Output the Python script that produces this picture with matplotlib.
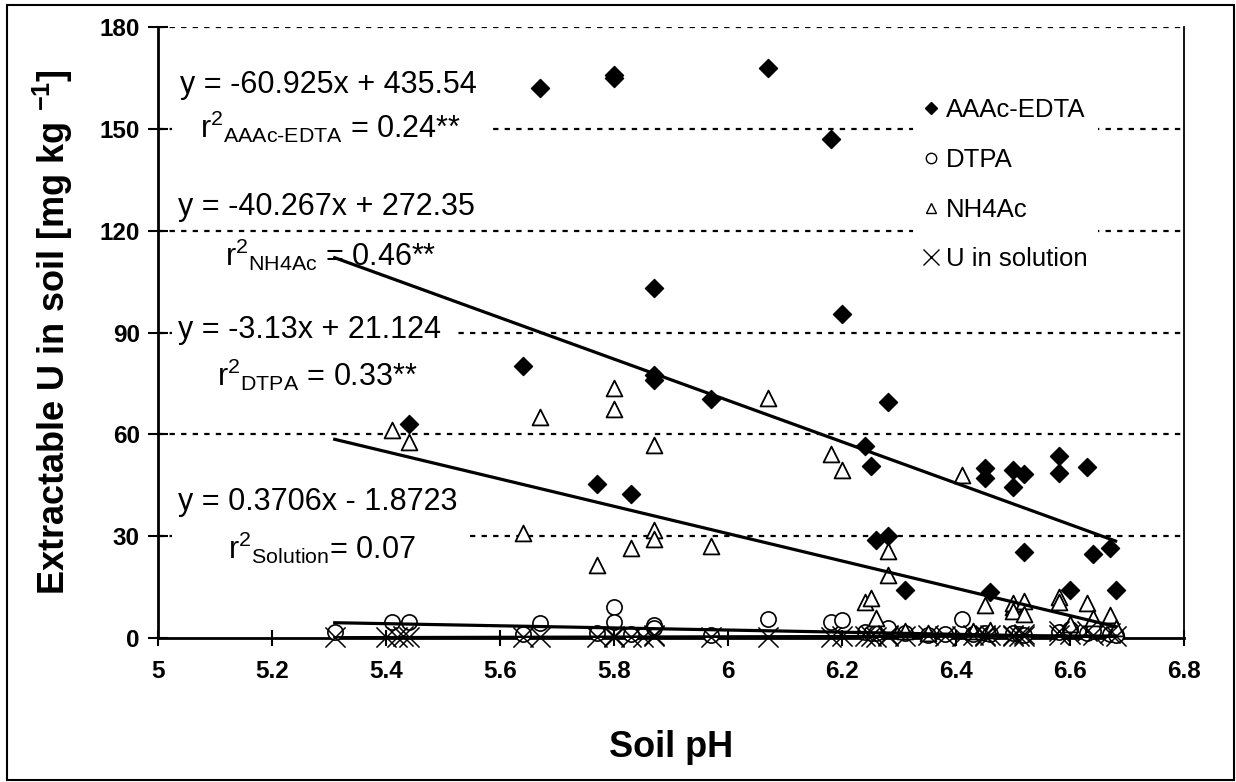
import matplotlib
matplotlib.use("Agg")
import matplotlib.pyplot as plt
from matplotlib.patches import Rectangle
from matplotlib.lines import Line2D

plt.rcParams["font.family"] = ["Liberation Sans", "DejaVu Sans"]
plt.rcParams["mathtext.fontset"] = "custom"
plt.rcParams["mathtext.rm"] = "Liberation Sans"
plt.rcParams["mathtext.it"] = "Liberation Sans:italic"
plt.rcParams["mathtext.bf"] = "Liberation Sans:bold"

# AAAc-EDTA extractable U
aaac_ph = [5.44, 5.64, 5.67, 5.77, 5.80, 5.80, 5.83, 5.87, 5.87, 5.87, 5.97, 6.07,
           6.18, 6.20, 6.24, 6.25, 6.26, 6.28, 6.28, 6.31, 6.45, 6.45, 6.46, 6.50,
           6.50, 6.52, 6.52, 6.58, 6.58, 6.60, 6.63, 6.64, 6.67, 6.68]
aaac_u = [63.1, 80.0, 162.0, 45.3, 165.0, 166.0, 42.4, 103.0, 77.5, 75.9, 70.4, 168.0,
          147.0, 95.4, 56.6, 50.7, 28.9, 69.5, 30.1, 14.1, 50.2, 47.1, 13.5, 49.5,
          44.6, 48.2, 25.3, 53.6, 48.7, 14.1, 50.5, 24.8, 26.6, 14.1]

# DTPA extractable U
dtpa_ph = [5.31, 5.41, 5.44, 5.64, 5.67, 5.77, 5.80, 5.80, 5.83, 5.87, 5.87, 5.97,
           6.07, 6.18, 6.20, 6.24, 6.25, 6.26, 6.28, 6.31, 6.35, 6.38, 6.41, 6.43,
           6.45, 6.46, 6.50, 6.51, 6.52, 6.58, 6.60, 6.63, 6.64, 6.67, 6.68]
dtpa_u = [1.9, 4.8, 4.8, 1.2, 4.3, 1.5, 9.0, 4.8, 1.3, 3.8, 2.8, 1.0,
          5.5, 4.8, 5.3, 1.8, 1.4, 1.6, 2.8, 1.5, 1.0, 1.2, 5.5, 1.3,
          1.6, 1.1, 1.4, 1.2, 1.0, 1.8, 2.6, 1.5, 2.0, 1.2, 1.0]

# NH4Ac extractable U
nh4_ph = [5.41, 5.44, 5.64, 5.67, 5.77, 5.80, 5.80, 5.83, 5.87, 5.87, 5.87, 5.97,
          6.07, 6.18, 6.20, 6.24, 6.25, 6.26, 6.28, 6.28, 6.31, 6.35, 6.41, 6.43,
          6.45, 6.46, 6.50, 6.50, 6.50, 6.52, 6.52, 6.58, 6.58, 6.60, 6.63, 6.64,
          6.67, 6.68]
nh4_u = [61.3, 57.6, 31.0, 65.2, 21.5, 73.6, 67.5, 26.4, 56.9, 31.8, 29.2, 27.1,
         70.6, 54.2, 49.5, 10.7, 11.7, 5.8, 25.6, 18.6, 2.0, 1.5, 48.0, 2.0,
         9.7, 2.5, 9.2, 10.4, 8.0, 11.0, 7.1, 12.0, 10.7, 4.0, 10.4, 5.8,
         6.8, 2.9]

# U in soil solution
sol_ph = [5.31, 5.40, 5.42, 5.43, 5.44, 5.64, 5.67, 5.77, 5.80, 5.80, 5.83, 5.85,
          5.87, 5.87, 5.97, 6.07, 6.18, 6.20, 6.24, 6.25, 6.26, 6.28, 6.28, 6.31,
          6.35, 6.38, 6.41, 6.43, 6.45, 6.45, 6.46, 6.50, 6.50, 6.51, 6.52, 6.52,
          6.58, 6.58, 6.60, 6.63, 6.64, 6.67, 6.68]
sol_u = [0.3, 0.4, 0.2, 0.5, 0.3, 0.3, 0.4, 0.2, 0.3, 0.6, 0.4, 0.3,
         0.5, 0.8, 0.2, 0.4, 0.3, 0.6, 0.5, 0.7, 0.4, 0.9, 0.6, 0.5,
         0.8, 0.6, 0.7, 0.9, 0.6, 1.0, 0.8, 0.5, 0.9, 0.7, 0.6, 1.1,
         2.2, 0.8, 1.2, 2.0, 1.0, 1.4, 0.7]

# linear trend lines (slope, intercept) as printed on the chart
fit_range = (5.31, 6.68)
trend_aaac = (-60.925, 435.54)
trend_nh4 = (-40.267, 272.35)
trend_dtpa = (-3.13, 21.124)
trend_sol = (0.3706, -1.8723)

x_ticks = [5, 5.2, 5.4, 5.6, 5.8, 6, 6.2, 6.4, 6.6, 6.8]
x_tick_labels = ["5", "5.2", "5.4", "5.6", "5.8", "6", "6.2", "6.4", "6.6", "6.8"]
y_ticks = [0, 30, 60, 90, 120, 150, 180]

W, H = 1236, 782
fig = plt.figure(figsize=(W / 100, H / 100), dpi=100)
ax = fig.add_axes([158 / W, 1 - 638 / H, (1184 - 158) / W, (638 - 27) / H])

# outer frame of the chart
fig.patches.append(Rectangle((7 / W, 2 / H), 1227 / W, 775 / H, transform=fig.transFigure,
                             fill=False, edgecolor="black", linewidth=1.5))

ax.set_xlim(5, 6.8)
ax.set_ylim(0, 180)
ax.set_xticks(x_ticks)
ax.set_xticklabels(x_tick_labels)
ax.set_yticks(y_ticks)
for lab in ax.get_xticklabels() + ax.get_yticklabels():
    lab.set_fontweight("bold")
    lab.set_fontsize(17.5)
ax.tick_params(axis="x", direction="inout", length=12, width=1.5, pad=10)
ax.tick_params(axis="y", direction="inout", length=14, width=1.5, pad=6)

ax.spines["top"].set_visible(False)
ax.spines["left"].set_linewidth(2)
ax.spines["bottom"].set_linewidth(2)
ax.spines["right"].set_linewidth(1.3)

for v in y_ticks[1:]:
    ax.axhline(v, color="black", linewidth=1.6, linestyle=(0, (2.4, 2.8)), zorder=0.5)

# white text boxes hiding parts of the grid
for x0, x1, y0, y1 in [(5.025, 5.586, 140, 170), (5.025, 5.523, 72, 100), (5.025, 5.54, 18, 44)]:
    ax.add_patch(Rectangle((x0, y0), x1 - x0, y1 - y0, facecolor="white", edgecolor="none", zorder=1))

ax.scatter(aaac_ph, aaac_u, marker="D", s=85, color="black", zorder=3, clip_on=False)
ax.scatter(dtpa_ph, dtpa_u, marker="o", s=120, facecolor="white", edgecolor="black",
           linewidth=1.2, zorder=3, clip_on=False)
ax.scatter(nh4_ph, nh4_u, marker="^", s=130, facecolor="white", edgecolor="black",
           linewidth=1.3, zorder=3, clip_on=False)
ax.scatter(sol_ph, sol_u, marker="x", s=210, color="black", linewidth=1.1, zorder=3, clip_on=False)

for slope, icpt in [trend_aaac, trend_nh4, trend_dtpa, trend_sol]:
    xs = list(fit_range)
    ax.plot(xs, [slope * x + icpt for x in xs], color="black", linewidth=2.3, zorder=4)

fs = 22
ax.text(5.039, 163, "y = -60.925x + 435.54", fontsize=fs, va="center", zorder=2)
ax.text(5.074, 150.6, r"r$^2$$_{\text{AAAc-EDTA}}$ = 0.24**", fontsize=fs, va="center", zorder=2)
ax.text(5.035, 127, "y = -40.267x + 272.35", fontsize=fs, va="center", zorder=2)
ax.text(5.118, 112.9, r"r$^2$$_{\text{NH4Ac}}$ = 0.46**", fontsize=fs, va="center", zorder=2)
ax.text(5.035, 90.8, "y = -3.13x + 21.124", fontsize=fs, va="center", zorder=2)
ax.text(5.104, 77.5, r"r$^2$$_{\text{DTPA}}$ = 0.33**", fontsize=fs, va="center", zorder=2)
ax.text(5.035, 40.1, "y = 0.3706x - 1.8723", fontsize=fs, va="center", zorder=2)
ax.text(5.123, 26.5, r"r$^2$$_{\text{Solution}}$= 0.07", fontsize=fs, va="center", zorder=2)

handles = [
    Line2D([], [], linestyle="none", marker="D", markersize=6.5, color="black"),
    Line2D([], [], linestyle="none", marker="o", markersize=7.5, markerfacecolor="white",
           markeredgecolor="black"),
    Line2D([], [], linestyle="none", marker="^", markersize=7.5, markerfacecolor="white",
           markeredgecolor="black"),
    Line2D([], [], linestyle="none", marker="x", markersize=11, color="black"),
]
leg = ax.legend(handles, ["AAAc-EDTA", "DTPA", "NH4Ac", "U in solution"],
                loc="upper left", bbox_to_anchor=((900 - 158) / (1184 - 158), (638 - 75) / (638 - 27)),
                frameon=True, fontsize=18.5, handlelength=0.6, handletextpad=0.3,
                labelspacing=1.0, borderpad=0.4, fancybox=False)
leg.get_frame().set_edgecolor("none")
leg.get_frame().set_facecolor("white")
leg.get_frame().set_alpha(1)
leg.set_zorder(5)

ax.set_xlabel("Soil pH", fontsize=26, fontweight="bold", labelpad=34)
ax.set_ylabel(r"Extractable U in soil [mg kg $^{\mathbf{-1}}$]", fontsize=26, fontweight="bold", labelpad=18)

fig.savefig("out.png", dpi=100)
